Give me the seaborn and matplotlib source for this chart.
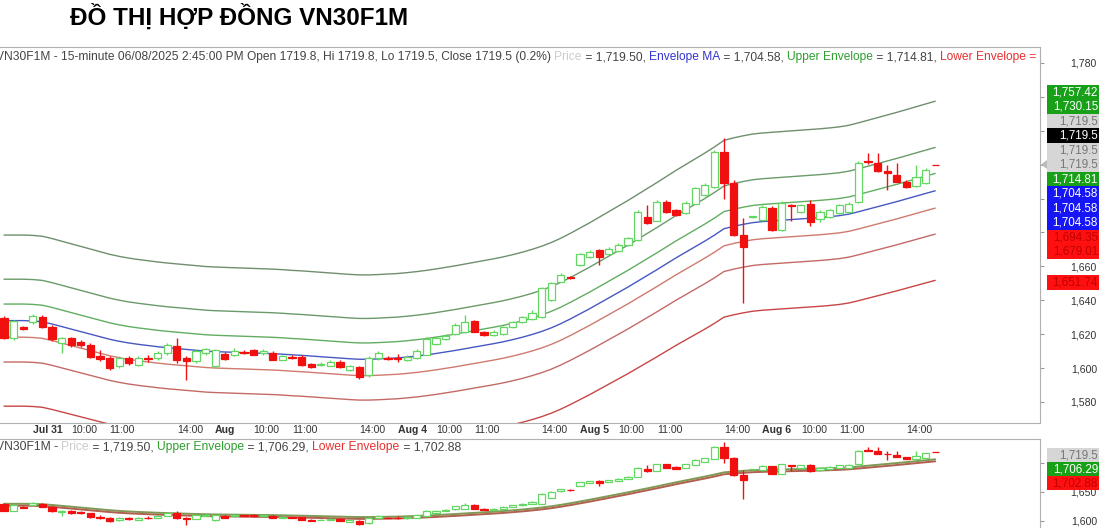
import matplotlib
matplotlib.use("Agg")
import matplotlib.pyplot as plt
import matplotlib.transforms as mtransforms
from matplotlib.offsetbox import TextArea, HPacker, AnchoredOffsetbox
from matplotlib.patches import Rectangle, Polygon
import numpy as np
import pandas as pd
import seaborn as sns

# ---------------- data ----------------
title = "ĐỒ THỊ HỢP ĐỒNG VN30F1M"
pre_times = ["14:15", "14:30", "14:45"]          # tail of Jul 30
day_names = ["Jul 31", "Aug", "Aug 4", "Aug 5", "Aug 6"]
session_times = ["9:00", "9:15", "9:30", "9:45", "10:00", "10:15", "10:30", "10:45",
                 "11:00", "11:15", "11:30", "13:00", "13:15", "13:30", "13:45",
                 "14:00", "14:15", "14:30", "14:45"]
tick_times = ["10:00", "11:00", "14:00"]

opens = [1629.5, 1617.5, 1624.0, 1627.0, 1630.0, 1624.5, 1615.0, 1617.5, 1615.5, 1613.5,
         1607.0, 1606.0, 1601.0, 1606.0, 1602.0, 1606.0, 1606.0, 1609.0, 1613.0, 1606.0,
         1604.0, 1609.0, 1601.0, 1608.5, 1608.0, 1609.5, 1610.5, 1609.0, 1609.0, 1605.0,
         1606.5, 1606.5, 1602.5, 1602.0, 1601.5, 1603.5, 1599.0, 1600.5, 1596.0, 1606.0,
         1606.0, 1606.0, 1604.8, 1606.0, 1608.0, 1614.0, 1617.0, 1620.0, 1621.0, 1627.5,
         1621.5, 1619.5, 1620.0, 1624.0, 1627.0, 1629.0, 1630.0, 1640.0, 1651.0, 1653.5,
         1661.0, 1665.5, 1669.5, 1667.5, 1669.0, 1672.5, 1675.5, 1689.0, 1687.0, 1698.0,
         1693.0, 1691.5, 1697.0, 1702.0, 1707.0, 1727.5, 1709.0, 1678.5, 1689.0, 1687.5,
         1694.5, 1681.5, 1696.0, 1692.0, 1697.0, 1688.0, 1689.0, 1691.5, 1692.0, 1698.0,
         1722.0, 1721.0, 1716.0, 1714.0, 1710.0, 1707.5, 1709.0, 1719.8]
highs = [1631.0, 1628.5, 1625.0, 1632.0, 1631.5, 1625.5, 1618.5, 1618.5, 1616.5, 1614.5,
         1610.5, 1607.0, 1607.0, 1607.0, 1607.0, 1608.0, 1610.0, 1614.5, 1617.5, 1607.0,
         1611.0, 1612.0, 1611.0, 1609.5, 1612.0, 1610.5, 1611.5, 1611.0, 1610.0, 1608.0,
         1607.5, 1607.5, 1603.0, 1603.5, 1604.5, 1604.5, 1602.0, 1601.5, 1607.0, 1610.0,
         1607.0, 1608.5, 1607.5, 1611.0, 1618.5, 1619.0, 1620.0, 1626.5, 1631.5, 1628.5,
         1622.0, 1622.5, 1625.0, 1628.0, 1631.0, 1634.5, 1648.0, 1651.0, 1656.0, 1654.5,
         1668.0, 1669.5, 1670.5, 1671.5, 1673.5, 1677.5, 1693.0, 1696.0, 1699.0, 1699.0,
         1694.0, 1698.5, 1707.0, 1709.0, 1728.5, 1735.8, 1711.0, 1688.5, 1690.0, 1696.0,
         1695.5, 1698.5, 1696.5, 1697.0, 1699.0, 1693.0, 1694.0, 1697.0, 1698.0, 1722.0,
         1727.0, 1727.0, 1720.0, 1721.0, 1711.0, 1720.0, 1718.0, 1719.8]
lows = [1617.0, 1616.5, 1622.5, 1626.0, 1623.5, 1616.0, 1609.0, 1612.5, 1612.5, 1606.0,
        1604.0, 1599.0, 1600.0, 1602.0, 1601.0, 1603.5, 1605.0, 1608.0, 1603.0, 1593.0,
        1603.0, 1608.0, 1600.0, 1605.0, 1607.0, 1608.5, 1607.5, 1608.0, 1604.5, 1604.5,
        1605.5, 1601.5, 1600.0, 1601.0, 1601.0, 1600.0, 1598.0, 1593.5, 1595.0, 1605.0,
        1605.0, 1603.5, 1604.0, 1605.5, 1607.5, 1613.5, 1616.5, 1619.5, 1620.5, 1621.0,
        1619.0, 1619.0, 1619.5, 1623.5, 1626.5, 1628.5, 1629.5, 1639.5, 1650.5, 1652.5,
        1660.5, 1665.0, 1661.0, 1667.0, 1668.5, 1672.0, 1675.0, 1685.0, 1686.5, 1691.5,
        1690.0, 1691.0, 1696.5, 1701.5, 1706.5, 1700.0, 1678.0, 1638.4, 1688.5, 1687.0,
        1681.0, 1681.0, 1687.0, 1691.5, 1684.0, 1686.0, 1688.5, 1691.0, 1691.5, 1697.5,
        1720.5, 1715.5, 1705.0, 1709.5, 1706.5, 1707.0, 1708.5, 1719.5]
closes = [1618.0, 1627.5, 1623.0, 1630.5, 1624.5, 1617.0, 1617.5, 1613.5, 1613.5, 1606.5,
          1605.5, 1600.0, 1606.0, 1603.0, 1606.0, 1605.5, 1609.0, 1613.5, 1604.5, 1604.0,
          1610.0, 1611.0, 1610.5, 1605.5, 1610.0, 1609.0, 1608.0, 1610.0, 1605.0, 1607.0,
          1606.0, 1602.0, 1600.5, 1602.5, 1603.5, 1600.5, 1601.0, 1594.5, 1606.0, 1609.0,
          1605.5, 1605.5, 1606.5, 1610.0, 1617.0, 1618.0, 1619.0, 1625.5, 1627.0, 1621.5,
          1619.5, 1621.5, 1624.0, 1627.0, 1630.0, 1632.5, 1647.0, 1650.0, 1655.0, 1653.0,
          1667.0, 1668.5, 1665.5, 1670.5, 1672.5, 1676.5, 1692.0, 1685.5, 1698.0, 1692.0,
          1690.5, 1697.5, 1706.0, 1708.0, 1727.5, 1709.0, 1678.5, 1671.5, 1689.5, 1695.0,
          1681.5, 1697.5, 1695.5, 1696.0, 1686.0, 1692.0, 1693.0, 1696.0, 1697.0, 1721.0,
          1721.5, 1716.0, 1715.0, 1710.0, 1707.0, 1712.5, 1717.0, 1719.5]
envelope_ma = [1628.0, 1628.0, 1628.0, 1627.8, 1627.3, 1626.0, 1624.5, 1623.0, 1621.5, 1620.0,
               1618.5, 1617.0, 1615.8, 1614.8, 1614.0, 1613.3, 1612.6, 1612.0, 1611.5, 1611.0,
               1610.5, 1610.0, 1609.7, 1609.5, 1609.3, 1609.1, 1608.9, 1608.7, 1608.5, 1608.2,
               1607.8, 1607.5, 1607.1, 1606.7, 1606.3, 1605.9, 1605.5, 1605.2, 1605.2, 1605.4,
               1605.7, 1606.0, 1606.5, 1607.1, 1607.8, 1608.6, 1609.5, 1610.4, 1611.4, 1612.4,
               1613.4, 1614.4, 1615.5, 1616.8, 1618.2, 1619.8, 1621.6, 1623.7, 1626.2, 1629.0,
               1632.0, 1635.0, 1638.2, 1641.4, 1644.6, 1647.8, 1651.2, 1654.6, 1658.0, 1661.5,
               1665.0, 1668.3, 1671.6, 1674.9, 1678.4, 1682.2, 1683.6, 1684.8, 1685.8, 1686.4,
               1686.8, 1687.2, 1687.6, 1688.0, 1688.4, 1688.8, 1689.3, 1689.9, 1690.8, 1692.2,
               1693.7, 1695.2, 1696.7, 1698.2, 1699.8, 1701.4, 1703.0, 1704.58]
band_pct = [3.1, 1.5, 0.6]        # envelope widths, main panel
sub_band_pct = 0.1                # envelope width, lower panel

main_ticks = [1580, 1600, 1620, 1640, 1660, 1680, 1700, 1720, 1740, 1760, 1780]
main_ticks_shown = [1580, 1600, 1620, 1640, 1660, 1780]   # the rest sit under the tags
sub_ticks = [1600, 1650, 1700]
sub_ticks_shown = [1600, 1650]
main_tags = ["1,757.42", "1,730.15", "1,719.5", "1,719.5", "1,719.5", "1,719.5", "1,714.81",
             "1,704.58", "1,704.58", "1,704.58", "1,694.35", "1,679.01", "1,651.74"]
sub_tags = ["1,719.5", "1,706.29", "1,702.88"]

# ---------------- style ----------------
sns.set_style("white")
plt.rcParams["font.family"] = ["Liberation Sans", "DejaVu Sans"]

W, H = 1120, 528
GREEN_C, RED_C = "#62d862", "#f01010"
TXT = "#333333"

fig = plt.figure(figsize=(W / 100, H / 100), dpi=100)
ax = fig.add_axes([0, 1 - 423 / H, 1040 / W, (423 - 47) / H])
ax2 = fig.add_axes([0, 0, 1040 / W, (528 - 439) / H])

n = len(closes)
bars = np.arange(n)
o, h, l, c = map(np.array, (opens, highs, lows, closes))
ma = np.array(envelope_ma)

# envelope lines through seaborn
names = [f"up{p}" for p in band_pct] + ["ma"] + [f"lo{p}" for p in band_pct[::-1]]
vals = [ma * (1 + p / 100) for p in band_pct] + [ma] + [ma * (1 - p / 100) for p in band_pct[::-1]]
line_colors = dict(zip(names, ["#6f8f6f", "#6a9a6a", "#62ad62", "#4758c0",
                               "#cf7a6e", "#c46a66", "#c84646"]))
df_lines = pd.concat([pd.DataFrame({"bar": bars, "value": v, "line": nm})
                      for nm, v in zip(names, vals)], ignore_index=True)
sns.lineplot(data=df_lines, x="bar", y="value", hue="line", hue_order=names,
             palette=line_colors, linewidth=1.0, legend=False, estimator=None,
             sort=False, ax=ax, zorder=2)

sub_names = ["sub_up", "sub_lo"]
df_sub = pd.concat([pd.DataFrame({"bar": bars, "value": ma * (1 + sub_band_pct / 100), "line": "sub_up"}),
                    pd.DataFrame({"bar": bars, "value": ma * (1 - sub_band_pct / 100), "line": "sub_lo"})],
                   ignore_index=True)
sns.lineplot(data=df_sub, x="bar", y="value", hue="line", hue_order=sub_names,
             palette={"sub_up": "#7f9a55", "sub_lo": "#b0604e"}, linewidth=1.4,
             legend=False, estimator=None, sort=False, ax=ax2, zorder=2)


def draw_candles(a, width):
    up = c >= o
    edge = np.where(up, GREEN_C, RED_C)
    face = np.where(up, "white", RED_C)
    a.vlines(bars, l, h, colors=edge, linewidth=1.0, zorder=3)
    a.bar(bars, np.abs(c - o), bottom=np.minimum(o, c), width=width,
          color=face, edgecolor=edge, linewidth=0.9, zorder=4)


draw_candles(ax, 0.74)
draw_candles(ax2, 0.74)

# axes limits (bar 0 sits ~4 px from the left edge, 9.6 px per bar)
xl = (-4 / 9.6, -4 / 9.6 + 1040 / 9.6)
ax.set_xlim(*xl)
ax2.set_xlim(*xl)
ax.set_ylim(1567.6, 1789.4)
ax2.set_ylim(1587.9, 1741.4)

# time axis labels
bar_times = pre_times + session_times * len(day_names)
bar_days = [""] * len(pre_times) + [d for d in day_names for _ in session_times]
tick_pos, tick_lab, tick_bold = [], [], []
for i, (d, t) in enumerate(zip(bar_days, bar_times)):
    if not d:
        continue
    if t == session_times[0]:
        tick_pos.append(i); tick_lab.append(d); tick_bold.append(True)
    elif t in tick_times:
        tick_pos.append(i); tick_lab.append(t); tick_bold.append(False)
ax.set_xticks(tick_pos)
ax.set_xticklabels(tick_lab)
shift = mtransforms.ScaledTranslation(2 / 72, 0, fig.dpi_scale_trans)
for lbl, b in zip(ax.get_xticklabels(), tick_bold):
    lbl.set_ha("left")
    lbl.set_fontweight("bold" if b else "normal")
    lbl.set_transform(lbl.get_transform() + shift)
ax.tick_params(axis="x", direction="out", length=4, width=0.8, color="#888888",
               pad=-2.5, labelsize=7.6, labelcolor=TXT)
ax2.set_xticks([])

# price axis on the right
for a, ticks, shown in ((ax, main_ticks, main_ticks_shown), (ax2, sub_ticks, sub_ticks_shown)):
    a.yaxis.tick_right()
    a.set_yticks(ticks)
    a.set_yticklabels([f"{v:,.0f}" if v in shown else "" for v in ticks])
    a.tick_params(axis="y", direction="out", length=3, width=0.8, color="#999999",
                  pad=38, labelsize=7.6, labelcolor=TXT)
    for lbl in a.get_yticklabels():
        lbl.set_ha("right")
    a.set_xlabel("")
    a.set_ylabel("")
    a.spines["left"].set_visible(False)
    for side in ("top", "right", "bottom"):
        a.spines[side].set_color("#b0b0b0")
        a.spines[side].set_linewidth(0.8)
ax2.spines["bottom"].set_visible(False)


# coloured price tags on the right
def tag(y_top, hgt, text, fc, tc):
    fig.add_artist(Rectangle((1047 / W, 1 - (y_top + hgt) / H), 52 / W, hgt / H,
                             transform=fig.transFigure, fc=fc, ec="none", zorder=5))
    fig.text(1098 / W, 1 - (y_top + hgt / 2) / H, text, ha="right", va="center",
             color=tc, fontsize=8.4, zorder=6)


GB, BB, RB, LG = "#18a018", "#1515f5", "#ff1010", "#d6d6d6"
main_style = [(GB, "white"), (GB, "white"), (LG, "#777777"), ("black", "white"),
              (LG, "#777777"), (LG, "#777777"), (GB, "white"), (BB, "white"),
              (BB, "white"), (BB, "white"), (RB, "#c00000"), (RB, "#c00000"), (RB, "#c00000")]
main_tops = [85, 99.5, 114, 128.5, 143, 157.5, 172, 186.5, 201, 215.5, 230, 244.5, 275]
for txt, (fc, tc), top in zip(main_tags, main_style, main_tops):
    tag(top, 14.5, txt, fc, tc)
fig.add_artist(Polygon([[1041 / W, 1 - 164.5 / H], [1047 / W, 1 - 160 / H], [1047 / W, 1 - 169 / H]],
                       closed=True, transform=fig.transFigure, fc="#bbbbbb", ec="none", zorder=5))

sub_style = [(LG, "#777777"), (GB, "white"), (RB, "#c00000")]
for txt, (fc, tc), top in zip(sub_tags, sub_style, [448, 462, 476]):
    tag(top, 14, txt, fc, tc)


# multi-coloured header lines
def header(pieces, x_px, y_px, size):
    boxes = [TextArea(s, textprops=dict(color=col, size=size)) for s, col in pieces]
    pack = HPacker(children=boxes, align="baseline", pad=0, sep=0)
    box = AnchoredOffsetbox(loc="center left", child=pack, pad=0, borderpad=0,
                            frameon=False, bbox_to_anchor=(x_px / W, 1 - y_px / H),
                            bbox_transform=fig.transFigure)
    box.set_zorder(7)
    fig.add_artist(box)


DK, PG, BL, GN, RD = "#444444", "#cccccc", "#3535d0", "#2f9f2f", "#e83030"
header([("VN30F1M - 15-minute 06/08/2025 2:45:00 PM Open 1719.8, Hi 1719.8, Lo 1719.5, "
         "Close 1719.5 (0.2%) ", DK), ("Price", PG), (" = 1,719.50, ", DK),
        ("Envelope MA", BL), (" = 1,704.58, ", DK), ("Upper Envelope", GN),
        (" = 1,714.81, ", DK), ("Lower Envelope =", RD)], -4, 57, 8.65)
header([("VN30F1M - ", DK), ("Price", PG), (" = 1,719.50, ", DK), ("Upper Envelope", GN),
        (" = 1,706.29, ", DK), ("Lower Envelope", RD), (" = 1,702.88", DK)], -4, 447, 8.7)

fig.text(70 / W, 1 - 17 / H, title, ha="left", va="center", fontsize=17.5,
         fontweight="bold", color="black")

fig.savefig("out.png", dpi=100)
